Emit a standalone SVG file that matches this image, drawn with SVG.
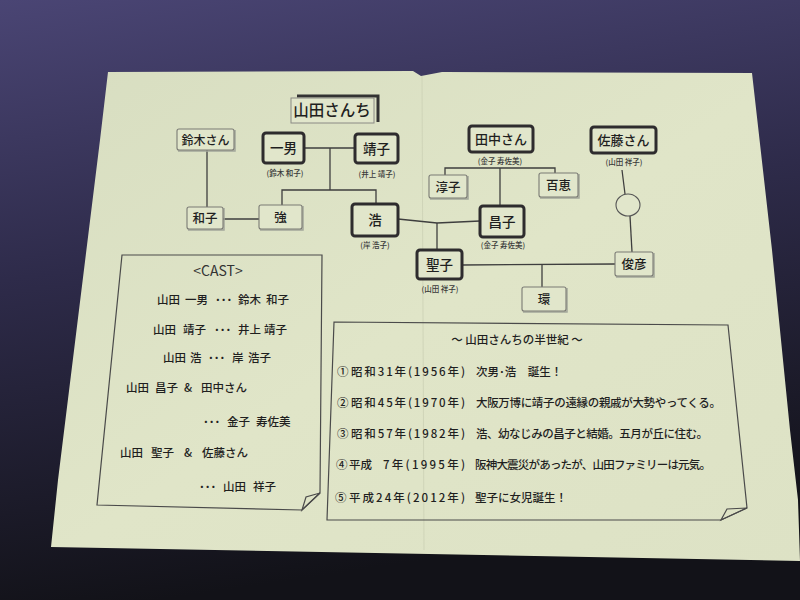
<svg xmlns="http://www.w3.org/2000/svg" width="800" height="600" viewBox="0 0 800 600">
<defs>
<linearGradient id="bg" x1="0" y1="0" x2="0.2" y2="1">
<stop offset="0" stop-color="#4a4574"/>
<stop offset="0.45" stop-color="#2e2b4a"/>
<stop offset="1" stop-color="#121218"/>
</linearGradient>
<linearGradient id="paper" x1="0" y1="0" x2="1" y2="1">
<stop offset="0" stop-color="#d8dec1"/>
<stop offset="0.5" stop-color="#e0e5c8"/>
<stop offset="1" stop-color="#dde2c5"/>
</linearGradient>
<style>
text{font-family:"Noto Sans CJK JP","Noto Sans CJK SC",sans-serif;fill:#1f1f1f;font-weight:500}
.bold rect{fill:#e1e6cb;stroke:#2e2c2e;stroke-width:3}
.thin rect{fill:#e1e6cb;stroke:#7a7a74;stroke-width:1.1}
.thin .sh{fill:none;stroke:#a3a69a;stroke-width:1.5}
.nt{font-size:13.5px;text-anchor:middle}
.st{font-size:12.5px;text-anchor:middle}
.lbl{font-size:7.5px;text-anchor:middle;fill:#3a3a3a}
.conn line,.conn polyline{stroke:#3e3e3e;stroke-width:1.3;fill:none}
.frame{fill:none;stroke:#4a4a4a;stroke-width:1.2}
.ct{font-size:11.5px}
.tl{font-size:11.5px}
</style>
</defs>
<rect width="800" height="600" fill="url(#bg)"/>
<polygon points="108,72 413,71 421,76 442,72 752,73 772,250 790,430 798,500 800,561 51,547 58,480 100,140" fill="url(#paper)"/>
<line x1="422" y1="76" x2="424" y2="550" stroke="#cfd4b8" stroke-width="1"/>

<g id="title">
<polyline points="297,96 378,96 378,122" fill="none" stroke="#333" stroke-width="3"/>
<rect x="291" y="98" width="83" height="25" fill="#e1e6cb" stroke="#8a8a84" stroke-width="1"/>
<text x="332" y="116" style="font-size:15.5px;text-anchor:middle">山田さんち</text>
</g>

<g class="conn" id="connectors">
<line x1="207" y1="150" x2="207" y2="207"/>
<line x1="223" y1="219" x2="259" y2="219"/>
<line x1="304" y1="148" x2="355" y2="148"/>
<line x1="330" y1="148" x2="330" y2="190"/>
<polyline points="282,205 282,190 376,190 376,204"/>
<polyline points="398,219 437,223 480,221"/>
<line x1="437" y1="223" x2="437" y2="250"/>
<line x1="500" y1="168" x2="500" y2="206"/>
<polyline points="445,176 445,168 555,168 555,173"/>
<line x1="622" y1="170" x2="625" y2="194"/>
<line x1="630" y1="216" x2="632" y2="252"/>
<line x1="462" y1="265" x2="615" y2="264"/>
<line x1="542" y1="264" x2="542" y2="287"/>
</g>

<g id="suzuki" class="thin">
<polyline class="sh" points="235,130 235,151 178,151"/>
<rect x="177" y="129" width="57" height="21" rx="2"/>
<text class="nt" x="205.5" y="144.5" style="font-size:12px">鈴木さん</text>
</g>
<g id="kazuo" class="bold">
<rect x="263" y="133" width="41" height="30" rx="3"/>
<text class="nt" x="283.5" y="153">一男</text>
<text class="lbl" x="285" y="176">(鈴木 和子)</text>
</g>
<g id="yasuko" class="bold">
<rect x="355" y="134" width="43" height="29" rx="3"/>
<text class="nt" x="376.5" y="154">靖子</text>
<text class="lbl" x="377" y="177">(井上 靖子)</text>
</g>
<g id="kazuko" class="thin">
<polyline class="sh" points="224,208 224,230 188,230"/>
<rect x="187" y="207" width="36" height="22" rx="2"/>
<text class="st" x="205" y="223">和子</text>
</g>
<g id="tsuyoshi" class="thin">
<polyline class="sh" points="303,206 303,230 260,230"/>
<rect x="259" y="205" width="43" height="24" rx="2"/>
<text class="st" x="280.5" y="222">強</text>
</g>
<g id="hiroshi" class="bold">
<rect x="352" y="204" width="46" height="32" rx="3"/>
<text class="nt" x="375" y="225">浩</text>
<text class="lbl" x="375" y="248">(岸 浩子)</text>
</g>
<g id="tanaka" class="bold">
<rect x="469" y="126" width="64" height="26" rx="3"/>
<text class="nt" x="501" y="144" style="font-size:13px">田中さん</text>
<text class="lbl" x="500" y="164">(金子 寿佐美)</text>
</g>
<g id="sato" class="bold">
<rect x="591" y="127" width="65" height="26" rx="3"/>
<text class="nt" x="623.5" y="145" style="font-size:13px">佐藤さん</text>
<text class="lbl" x="624" y="165">(山田 祥子)</text>
</g>
<g id="junko" class="thin">
<polyline class="sh" points="468,176 468,199 430,199"/>
<rect x="429" y="175" width="38" height="23" rx="2"/>
<text class="st" x="448" y="191.5">淳子</text>
</g>
<g id="momoe" class="thin">
<polyline class="sh" points="579,174 579,198 540,198"/>
<rect x="539" y="173" width="39" height="24" rx="2"/>
<text class="st" x="558.5" y="190">百恵</text>
</g>
<g id="masako" class="bold">
<rect x="480" y="206" width="44" height="31" rx="3"/>
<text class="nt" x="502" y="226.5">昌子</text>
<text class="lbl" x="503" y="248">(金子 寿佐美)</text>
</g>
<g id="unknown">
<ellipse cx="628" cy="205" rx="12" ry="11" fill="#e1e6cb" stroke="#555" stroke-width="1.1"/>
</g>
<g id="seiko" class="bold">
<rect x="417" y="250" width="45" height="29" rx="3"/>
<text class="nt" x="439.5" y="269.5">聖子</text>
<text class="lbl" x="440" y="292">(山田 祥子)</text>
</g>
<g id="toshihiko" class="thin">
<polyline class="sh" points="654,253 654,277 616,277"/>
<rect x="615" y="252" width="38" height="24" rx="2"/>
<text class="st" x="634" y="269">俊彦</text>
</g>
<g id="tamaki" class="thin">
<polyline class="sh" points="567,288 567,312 523,312"/>
<rect x="522" y="287" width="44" height="24" rx="2"/>
<text class="st" x="544" y="304">環</text>
</g>

<g id="cast">
<polygon class="frame" points="122,255 322,255 320,493 302,510 97,505"/>
<polygon class="frame" points="320,493 306,497 302,510"/>
<text x="218" y="276" style="font-size:14px;text-anchor:middle;fill:#333;font-weight:normal">&lt;CAST&gt;</text>
<text class="ct" y="304"><tspan x="157">山田</tspan><tspan x="185">一男</tspan><tspan x="215" font-weight="bold">･･･</tspan><tspan x="238">鈴木</tspan><tspan x="266">和子</tspan></text>
<text class="ct" y="334"><tspan x="153">山田</tspan><tspan x="183">靖子</tspan><tspan x="214" font-weight="bold">･･･</tspan><tspan x="238">井上</tspan><tspan x="264">靖子</tspan></text>
<text class="ct" y="362"><tspan x="163">山田</tspan><tspan x="190">浩</tspan><tspan x="208" font-weight="bold">･･･</tspan><tspan x="232">岸</tspan><tspan x="248">浩子</tspan></text>
<text class="ct" y="392"><tspan x="126">山田</tspan><tspan x="155">昌子</tspan><tspan x="184">&amp;</tspan><tspan x="201">田中さん</tspan></text>
<text class="ct" y="426"><tspan x="203" font-weight="bold">･･･</tspan><tspan x="227">金子</tspan><tspan x="256">寿佐美</tspan></text>
<text class="ct" y="457"><tspan x="120">山田</tspan><tspan x="151">聖子</tspan><tspan x="184">&amp;</tspan><tspan x="202">佐藤さん</tspan></text>
<text class="ct" y="491"><tspan x="199" font-weight="bold">･･･</tspan><tspan x="223">山田</tspan><tspan x="253">祥子</tspan></text>
</g>

<g id="timeline">
<polygon class="frame" points="334,322 728,325 747,508 721,520 327,520"/>
<polygon class="frame" points="747,508 727,509 721,520"/>
<text x="517" y="344" style="font-size:11.5px;text-anchor:middle">～ 山田さんちの半世紀 ～</text>
<text class="tl" x="337" y="376">①</text>
<text class="tl" x="351" y="376" textLength="114">昭和31年(1956年)</text>
<text class="tl" x="476" y="376">次男･浩　誕生！</text>
<text class="tl" x="337" y="407">②</text>
<text class="tl" x="351" y="407" textLength="114">昭和45年(1970年)</text>
<text class="tl" x="476" y="407" textLength="245">大阪万博に靖子の遠縁の親戚が大勢やってくる。</text>
<text class="tl" x="337" y="438">③</text>
<text class="tl" x="351" y="438" textLength="114">昭和57年(1982年)</text>
<text class="tl" x="476" y="438" textLength="232">浩、幼なじみの昌子と結婚。五月が丘に住む。</text>
<text class="tl" x="336" y="469">④</text>
<text class="tl" x="349" y="469">平成</text>
<text class="tl" x="383" y="469" textLength="82">7年(1995年)</text>
<text class="tl" x="475" y="469" textLength="236">阪神大震災があったが、山田ファミリーは元気。</text>
<text class="tl" x="335" y="502">⑤</text>
<text class="tl" x="349" y="502" textLength="116">平成24年(2012年)</text>
<text class="tl" x="475" y="502">聖子に女児誕生！</text>
</g>
</svg>
